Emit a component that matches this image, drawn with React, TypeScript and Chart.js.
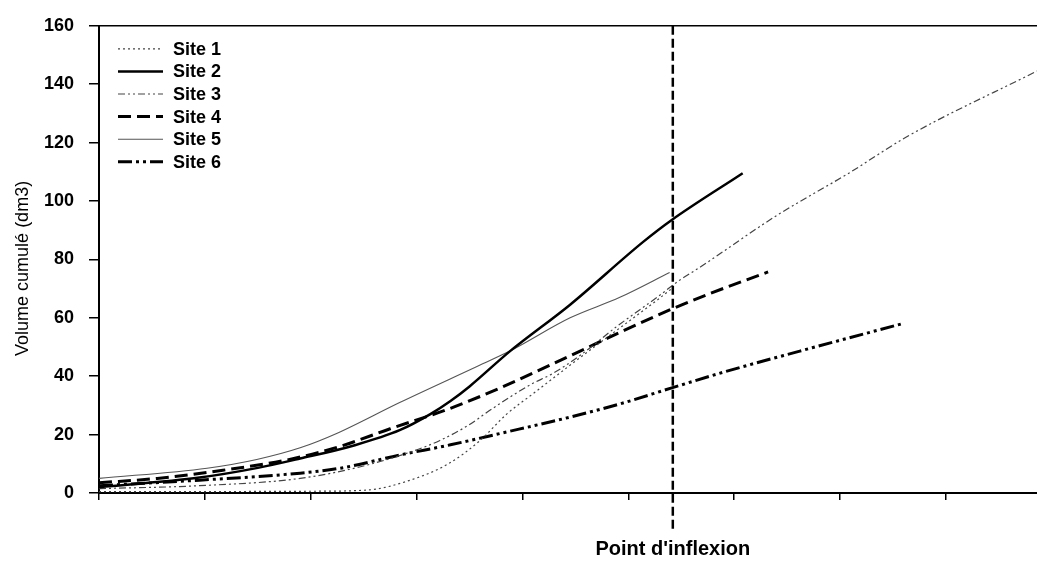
import React, { useEffect, useRef } from 'react';
import { Chart, registerables } from 'chart.js';

Chart.register(...registerables);

// ---- data (x in tick units along the unlabeled x axis) ----
const seriesLabels = ['Site 1', 'Site 2', 'Site 3', 'Site 4', 'Site 5', 'Site 6'];

const site1X = [0, 1, 2, 2.53, 2.94, 3.3, 3.6, 3.85, 4.1, 4.35, 4.64, 4.9, 5.27, 5.41];
const site1Y = [0.5, 0.5, 0.6, 1, 4.4, 10, 18, 27, 34, 41, 49, 56, 66, 70];

const site2X = [0, 0.95, 1.5, 1.9, 2.4, 2.84, 3.13, 3.32, 3.5, 3.88, 4.45, 5.14, 5.41, 6.08];
const site2Y = [2, 5.3, 8.6, 11.8, 16.2, 21.5, 27, 31.5, 36.5, 48.5, 64.5, 86, 93.5, 109.5];

const site3X = [0, 0.95, 1.9, 2.47, 2.94, 3.22, 3.48, 3.72, 4.07, 4.29, 4.54, 4.89, 5.27, 5.49, 5.68, 6.4, 7.09, 7.63, 8.86];
const site3Y = [1.5, 2.5, 5, 9, 14, 18, 23, 29, 37, 41, 47, 57, 67, 73, 77.4, 95, 109.7, 122, 144.5];

const site4X = [0, 0.55, 1.17, 1.8, 2.28, 2.75, 3.32, 3.79, 4.45, 4.92, 5.41, 5.77, 6.32];
const site4Y = [3.5, 5, 7.8, 11.5, 16, 22, 29, 36, 47, 55, 63, 68.3, 75.7];

const site5X = [0, 1.02, 1.49, 1.9, 2.25, 2.84, 3.55, 3.88, 4.45, 4.92, 5.39];
const site5Y = [5, 8.5, 11.5, 15.5, 20.5, 31, 43, 48.6, 60, 67, 75.5];

const site6X = [0, 0.95, 1.9, 2.28, 2.84, 3.32, 3.79, 4.45, 4.92, 5.41, 5.91, 6.62, 7.59];
const site6Y = [2.5, 4.4, 6.8, 8.5, 13, 16.5, 20.4, 26, 30.5, 36, 41.5, 48.6, 58];

const seriesX = [site1X, site2X, site3X, site4X, site5X, site6X];
const seriesY = [site1Y, site2Y, site3Y, site4Y, site5Y, site6Y];

const yTickValues = [0, 20, 40, 60, 80, 100, 120, 140, 160];
const xTickValues = [0, 1, 2, 3, 4, 5, 6, 7, 8];
const xMax = 8.86;
const inflexionX = 5.42;
const xAxisLabel = "Point d'inflexion";
const yAxisLabel = 'Volume cumulé (dm3)';

// ---- styles ----
const FONT = '"Liberation Sans", Arial, sans-serif';
const lineStyles = [
  { color: '#444', width: 1.2, dash: [2, 3] },
  { color: '#000', width: 2.5, dash: [] },
  { color: '#444', width: 1.2, dash: [7, 3, 2, 3, 2, 3] },
  { color: '#000', width: 3, dash: [13, 6] },
  { color: '#555', width: 1.1, dash: [] },
  { color: '#000', width: 3, dash: [14, 4, 3, 4, 3, 4] },
];

const overlayPlugin = {
  id: 'overlay',
  afterDatasetsDraw(chart: any) {
    const { ctx, chartArea, scales } = chart;
    ctx.save();
    // top frame line
    ctx.strokeStyle = '#000';
    ctx.lineWidth = 1.5;
    ctx.setLineDash([]);
    ctx.beginPath();
    ctx.moveTo(chartArea.left, chartArea.top);
    ctx.lineTo(chartArea.right, chartArea.top);
    ctx.stroke();

    // inflexion line
    const px = scales.x.getPixelForValue(inflexionX);
    ctx.setLineDash([9, 4]);
    ctx.lineWidth = 2.5;
    ctx.beginPath();
    ctx.moveTo(px, chartArea.top);
    ctx.lineTo(px, chartArea.bottom + 38);
    ctx.stroke();
    ctx.setLineDash([]);

    ctx.fillStyle = '#000';
    ctx.font = `bold 20px ${FONT}`;
    ctx.textAlign = 'center';
    ctx.textBaseline = 'middle';
    ctx.fillText(xAxisLabel, px, chartArea.bottom + 56);

    // y axis title
    ctx.save();
    ctx.translate(23, (chartArea.top + chartArea.bottom) / 2 + 9);
    ctx.rotate(-Math.PI / 2);
    ctx.font = `18px ${FONT}`;
    ctx.fillText(yAxisLabel, 0, 0);
    ctx.restore();

    // legend
    chart.data.datasets.forEach((ds: any, i: number) => {
      const y = chartArea.top + 23 + i * 22.6;
      ctx.strokeStyle = ds.borderColor;
      ctx.lineWidth = ds.borderWidth;
      ctx.setLineDash(ds.borderDash || []);
      ctx.beginPath();
      ctx.moveTo(chartArea.left + 19, y);
      ctx.lineTo(chartArea.left + 64, y);
      ctx.stroke();
      ctx.setLineDash([]);
      ctx.fillStyle = '#000';
      ctx.font = `bold 18px ${FONT}`;
      ctx.textAlign = 'left';
      ctx.textBaseline = 'middle';
      ctx.fillText(ds.label, chartArea.left + 74, y + 1);
    });
    ctx.restore();
  },
};

export default function App() {
  const canvasRef = useRef<HTMLCanvasElement | null>(null);

  useEffect(() => {
    document.body.style.margin = '0';
    const canvas = canvasRef.current;
    if (!canvas) return;
    const datasets = seriesLabels.map((label, i) => ({
      label,
      data: seriesX[i].map((x, j) => ({ x, y: seriesY[i][j] })),
      borderColor: lineStyles[i].color,
      borderWidth: lineStyles[i].width,
      borderDash: lineStyles[i].dash,
      pointRadius: 0,
      fill: false,
      cubicInterpolationMode: 'monotone' as const,
    }));

    const chart = new Chart(canvas, {
      type: 'line',
      data: { datasets },
      plugins: [overlayPlugin],
      options: {
        animation: false,
        responsive: false,
        maintainAspectRatio: false,
        layout: { padding: { top: 22, right: 0, left: 0, bottom: 0 } },
        plugins: { legend: { display: false }, tooltip: { enabled: false } },
        scales: {
          x: {
            type: 'linear',
            min: 0,
            max: xMax,
            afterBuildTicks: (scale: any) => {
              scale.ticks = xTickValues.map((v) => ({ value: v }));
            },
            afterFit: (scale: any) => {
              scale.height = 76;
            },
            ticks: { callback: () => '', font: { size: 12 } },
            grid: { drawOnChartArea: false, drawTicks: true, tickLength: 7, color: '#000', lineWidth: 1.5 },
            border: { display: true, color: '#000', width: 2 },
          },
          y: {
            type: 'linear',
            min: 0,
            max: 160,
            afterBuildTicks: (scale: any) => {
              scale.ticks = yTickValues.map((v) => ({ value: v }));
            },
            afterFit: (scale: any) => {
              scale.width = 99;
            },
            ticks: { color: '#000', padding: 15, font: { family: FONT, size: 18, weight: 'bold' } },
            grid: { drawOnChartArea: false, drawTicks: true, tickLength: 10, color: '#000', lineWidth: 1.5 },
            border: { display: true, color: '#000', width: 2 },
          },
        },
      },
    });
    return () => chart.destroy();
  }, []);

  return (
    <div style={{ width: 1037, height: 569, background: '#fff' }}>
      <canvas ref={canvasRef} width={1037} height={569} />
    </div>
  );
}
